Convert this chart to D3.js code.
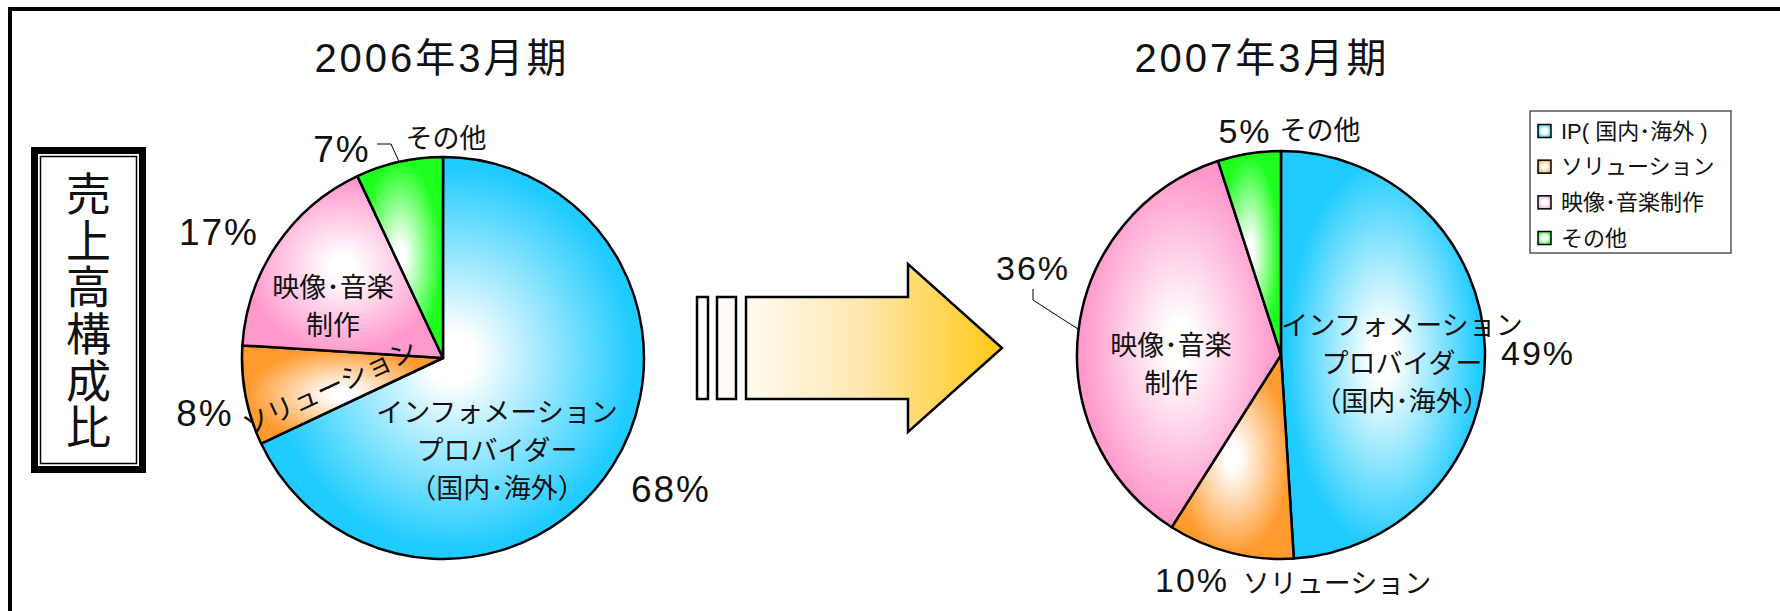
<!DOCTYPE html>
<html>
<head>
<meta charset="utf-8">
<script src="https://cdn.jsdelivr.net/npm/d3@7"></script>
<style>
  body { margin: 0; background: #fff; }
  svg { display: block; }
  text { font-family: "Liberation Sans", "Noto Sans CJK JP", sans-serif; fill: #111; }
</style>
</head>
<body>
<svg id="chart" width="1780" height="611"></svg>
<script>
// データ
const categories = ["インフォメーションプロバイダー（国内・海外）", "ソリューション", "映像・音楽制作", "その他"];
const legendLabels = ["IP( 国内･海外 )", "ソリューション", "映像･音楽制作", "その他"];
const nameLines = [["インフォメーション", "プロバイダー", "（国内･海外）"], ["ソリューション"], ["映像･音楽", "制作"], ["その他"]];
const periods = ["2006年3月期", "2007年3月期"];
const values2006 = [68, 8, 17, 7];
const values2007 = [49, 10, 36, 5];
const sliceColors = ["#1fcbff", "#ff9a2e", "#ff99cc", "#1eff1e"];
const sideTitle = "売上高構成比";

// レイアウト（円の中心からの相対位置）
const pies = [
  {
    values: values2006, cx: 443, cy: 358, r: 201, titleX: 442, titleY: 72, pctSize: 37,
    pct: [[228, 144], [-238, 68], [-224, -113], [-101, -196]],
    names: [
      { dx: 54, dy: 64 }, { dx: -113, dy: 30, rotate: -25, central: true },
      { dx: -110, dy: -61 }, { dx: 3, dy: -210 }
    ],
    leader: { slice: 3, pts: [[-66, -214], [-52, -214]] }
  },
  {
    values: values2007, cx: 1281, cy: 355, r: 204, titleX: 1262, titleY: 72, pctSize: 34,
    pct: [[257, 10], [-89, 237], [-248, -75], [-36, -212]],
    names: [
      { dx: 121, dy: -20 }, { dx: 56, dy: 238 },
      { dx: -110, dy: 0 }, { dx: 39, dy: -215 }
    ],
    leader: { slice: 2, pts: [[-248, -66], [-248, -55]] }
  }
];

const svg = d3.select("#chart");
const defs = svg.append("defs");

// 外枠（上と左だけ見えている）
svg.append("line").attr("x1", 8).attr("x2", 1780).attr("y1", 9).attr("y2", 9)
  .attr("stroke", "#000").attr("stroke-width", 4);
svg.append("line").attr("x1", 10).attr("x2", 10).attr("y1", 7).attr("y2", 611)
  .attr("stroke", "#000").attr("stroke-width", 4);

// 縦書きの見出し
const box = svg.append("g");
box.append("rect").attr("x", 31).attr("y", 147).attr("width", 115).attr("height", 326).attr("fill", "#000");
box.append("rect").attr("x", 38).attr("y", 154).attr("width", 101).attr("height", 312).attr("fill", "#fff");
box.append("rect").attr("x", 40.5).attr("y", 156.5).attr("width", 96).attr("height", 307)
  .attr("fill", "none").attr("stroke", "#000").attr("stroke-width", 1.5);
const charY = d3.scaleBand().domain(d3.range(sideTitle.length)).range([172, 452]);
box.selectAll("text.side").data(Array.from(sideTitle)).enter().append("text")
  .attr("class", "side")
  .attr("x", 88.5)
  .attr("y", (d, i) => charY(i) + charY.bandwidth() / 2)
  .attr("text-anchor", "middle")
  .attr("dominant-baseline", "central")
  .attr("font-size", 45)
  .text(d => d);

// 矢印
const arrowGrad = defs.append("linearGradient").attr("id", "arrowGrad")
  .attr("gradientUnits", "userSpaceOnUse").attr("x1", 746).attr("x2", 1002).attr("y1", 0).attr("y2", 0);
arrowGrad.append("stop").attr("offset", 0).attr("stop-color", "#fffaf2");
arrowGrad.append("stop").attr("offset", 0.45).attr("stop-color", "#ffe8b0");
arrowGrad.append("stop").attr("offset", 1).attr("stop-color", "#ffc812");
const arrow = svg.append("g").attr("stroke", "#000").attr("stroke-width", 2.5);
[[697, 11], [717, 19]].forEach(([x, w]) => {
  arrow.append("rect").attr("x", x).attr("y", 297).attr("width", w).attr("height", 102).attr("fill", "#fffcf7");
});
arrow.append("path")
  .attr("d", d3.line()([[746, 297], [908, 297], [908, 264], [1002, 348], [908, 432], [908, 399], [746, 399]]) + "Z")
  .attr("fill", "url(#arrowGrad)")
  .attr("stroke-linejoin", "miter");

// 円グラフ
const pie = d3.pie().sort(null).value(d => d);

pies.forEach((p, pi) => {
  const arcs = pie(p.values);
  const arc = d3.arc().innerRadius(0).outerRadius(p.r);
  const g = svg.append("g").attr("transform", `translate(${p.cx},${p.cy})`);

  // スライスごとのグラデーション（中心が白）
  arcs.forEach((a, i) => {
    const grad = defs.append("radialGradient").attr("id", `g${pi}-${i}`)
      .attr("cx", "50%").attr("cy", "50%").attr("r", "50%");
    grad.append("stop").attr("offset", 0).attr("stop-color", "#fff");
    grad.append("stop").attr("offset", 0.12).attr("stop-color", "#fff");
    grad.append("stop").attr("offset", 0.95).attr("stop-color", sliceColors[i]);
  });

  g.selectAll("path.slice").data(arcs).enter().append("path")
    .attr("class", "slice")
    .attr("d", arc)
    .attr("fill", (d, i) => `url(#g${pi}-${i})`)
    .attr("stroke", "#000")
    .attr("stroke-width", 2.5)
    .attr("stroke-linejoin", "round");

  // 引き出し線
  const la = arcs[p.leader.slice];
  const mid = (la.startAngle + la.endAngle) / 2;
  const edge = [p.r * Math.sin(mid), -p.r * Math.cos(mid)];
  g.append("path")
    .attr("d", d3.line()([...p.leader.pts, edge]))
    .attr("fill", "none").attr("stroke", "#000").attr("stroke-width", 1);

  // パーセント
  g.selectAll("text.pct").data(arcs).enter().append("text")
    .attr("class", "pct")
    .attr("x", (d, i) => p.pct[i][0])
    .attr("y", (d, i) => p.pct[i][1])
    .attr("text-anchor", "middle")
    .attr("font-size", p.pctSize)
    .attr("letter-spacing", 2)
    .text(d => d.data + "%");

  // 区分名
  arcs.forEach((a, i) => {
    const n = p.names[i];
    const t = g.append("text")
      .attr("font-size", 27)
      .attr("text-anchor", "middle")
      .attr("transform", `translate(${n.dx},${n.dy})` + (n.rotate ? ` rotate(${n.rotate})` : ""));
    if (n.central) t.attr("dominant-baseline", "central");
    nameLines[i].forEach((line, li) => {
      t.append("tspan").attr("x", 0).attr("dy", li === 0 ? 0 : 38).text(line);
    });
  });

  // 期タイトル
  svg.append("text")
    .attr("x", p.titleX).attr("y", p.titleY)
    .attr("text-anchor", "middle")
    .attr("font-size", 40)
    .attr("letter-spacing", 3)
    .text(periods[pi]);
});

// 凡例
const legendGrads = sliceColors.map((c, i) => {
  const grad = defs.append("radialGradient").attr("id", `lg${i}`).attr("r", "60%");
  grad.append("stop").attr("offset", 0.35).attr("stop-color", "#fff");
  grad.append("stop").attr("offset", 1).attr("stop-color", c);
  return `url(#lg${i})`;
});
const legend = svg.append("g");
legend.append("rect").attr("x", 1530).attr("y", 111).attr("width", 201).attr("height", 142)
  .attr("fill", "#fff").attr("stroke", "#555").attr("stroke-width", 1.5);
const rowY = d3.scalePoint().domain(d3.range(legendLabels.length)).range([131, 238]);
const rows = legend.selectAll("g.row").data(legendLabels).enter().append("g")
  .attr("class", "row")
  .attr("transform", (d, i) => `translate(1538,${rowY(i)})`);
rows.append("rect").attr("x", 0).attr("y", -6.5).attr("width", 13).attr("height", 13)
  .attr("fill", (d, i) => legendGrads[i]).attr("stroke", "#000").attr("stroke-width", 1.5);
rows.append("text").attr("x", 23).attr("y", 0)
  .attr("dominant-baseline", "central")
  .attr("font-size", 22)
  .text(d => d);
</script>
</body>
</html>
